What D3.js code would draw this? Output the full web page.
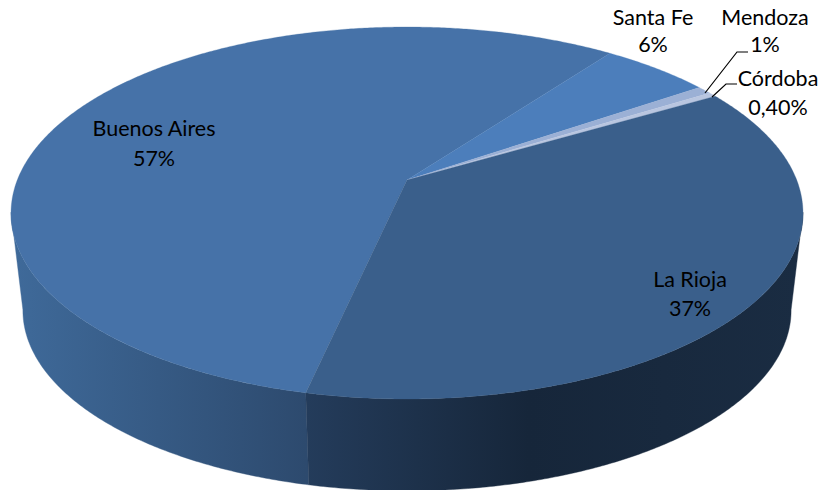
<!DOCTYPE html>
<html><head><meta charset="utf-8">
<script src="https://cdn.jsdelivr.net/npm/d3@7"></script>
<style>html,body{margin:0;padding:0;background:#fff}svg{display:block}text{font-family:Lato,"Open Sans",sans-serif;font-size:21.5px;fill:#000;text-anchor:middle}</style>
</head><body><svg id="c" width="819" height="490"></svg>
<script>
const categories=["Buenos Aires","Santa Fe","Mendoza","Córdoba","La Rioja"];
const values=[56.7,5.3,0.7,0.4,36.9];
const valueLabels=["57%","6%","1%","0,40%","37%"];
const topColors=["#4672a8","#4c7ebb","#9bb0d5","#b9c6e0","#3a5f8b"];
const sideStops=[[["#3f6a9a",0],["#2d4a6e",1]],null,null,null,[["#243c5b",0],["#16263a",.45],["#1a2c42",1]]];
const labelPos=[[154,136,166],[653,25,52],[765,25,52],[778,86,115],[690,287,316]];
const leaders=[null,null,[[705,93],[737,52],[748,52]],[[712,97],[726,84],[737,84]],null];

const W=819,H=490,svg=d3.select("#c");
// perspective projection of the unit disc
const cx=407,apexY=180,k=.1774,a=389.7,b=180.15,vanishY=3460,shrink=.03;
function proj(ang,r=1,h=0){
  const u=r*Math.sin(ang),v=-r*Math.cos(ang),d=1-k*v;
  const X=a*u/d,Y=apexY+b*v/d,s=1-shrink*h;
  return [cx+X*s,vanishY+(Y-vanishY)*s];
}
const start=192.4*Math.PI/180;
const arcs=d3.pie().sort(null).startAngle(start).endAngle(start+2*Math.PI)(values);
const line=d3.line();
const sample=(a0,a1)=>{const n=Math.max(2,Math.ceil((a1-a0)*120));return d3.range(n+1).map(i=>a0+(a1-a0)*i/n)};

const defs=svg.append("defs");
sideStops.forEach((st,i)=>{
  if(!st)return;
  const x0=i===0?11:306,x1=i===0?306:800;
  const g=defs.append("linearGradient").attr("id","g"+i).attr("gradientUnits","userSpaceOnUse")
    .attr("x1",x0).attr("x2",x1).attr("y1",0).attr("y2",0);
  st.forEach(s=>g.append("stop").attr("offset",s[1]).attr("stop-color",s[0]));
});
// sides: the widest points of the projected rim sit just in front of the horizontal diameter
const lim0=100*Math.PI/180,lim1=260*Math.PI/180;
arcs.forEach((d,i)=>{
  if(!sideStops[i])return;
  const a0=d.startAngle,a1=d.endAngle,segs=[];
  const lo=Math.max(a0,lim0),hi=Math.min(a1,lim1);
  if(hi>lo)segs.push([lo,hi]);
  const lo2=Math.max(a0-2*Math.PI,lim0),hi2=Math.min(a1-2*Math.PI,lim1);
  if(hi2>lo2)segs.push([lo2,hi2]);
  segs.forEach(s=>{
    const t=sample(s[0],s[1]);
    const pts=t.map(x=>proj(x,1,0)).concat(t.slice().reverse().map(x=>proj(x,1,1)));
    svg.append("path").attr("d",line(pts)+"Z").attr("fill",`url(#g${i})`).attr("stroke",`url(#g${i})`).attr("stroke-width",.4);
  });
});
// top face
arcs.forEach((d,i)=>{
  const pts=[proj(0,0)].concat(sample(d.startAngle,d.endAngle).map(x=>proj(x)));
  svg.append("path").attr("d",line(pts)+"Z").attr("fill",topColors[i]).attr("stroke",topColors[i]).attr("stroke-width",.3);
});
// leaders
leaders.forEach(l=>{if(l)svg.append("path").attr("d",line(l)).attr("fill","none").attr("stroke","#000").attr("stroke-width",1.2)});
// labels
categories.forEach((c,i)=>{
  const p=labelPos[i];
  svg.append("text").attr("x",p[0]).attr("y",p[1]).text(c);
  svg.append("text").attr("x",p[0]).attr("y",p[2]).text(valueLabels[i]);
});
</script></body></html>
